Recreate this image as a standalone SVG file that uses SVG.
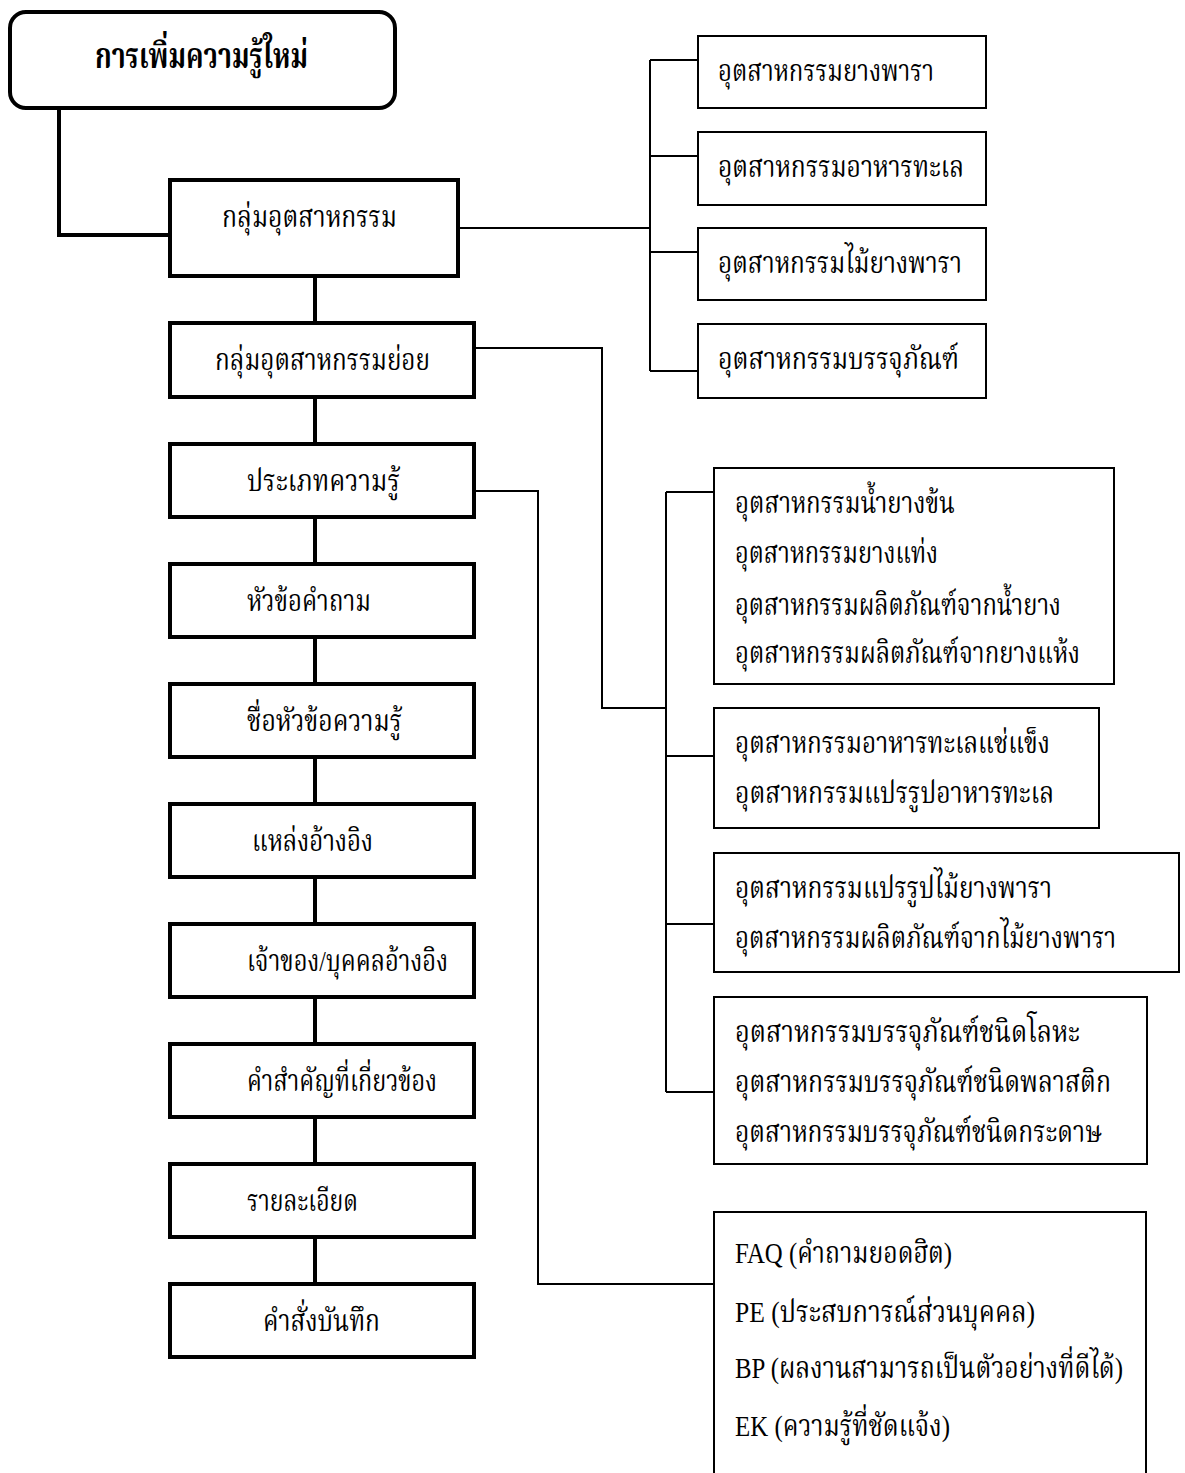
<svg xmlns="http://www.w3.org/2000/svg" width="1185" height="1473" viewBox="0 0 1185 1473">
<style>
text{font-family:"Liberation Serif","Noto Serif Thai","Noto Sans Thai","Loma","Garuda","Tlwg Typo",serif;font-size:30px;fill:#000}
.title{font-weight:bold;font-size:36px}
.thick{fill:#fff;stroke:#000;stroke-width:4}
.thin{fill:#fff;stroke:#000;stroke-width:2}
.cth{fill:none;stroke:#000;stroke-width:4}
.ctn{fill:none;stroke:#000;stroke-width:2}
</style>
<rect width="1185" height="1473" fill="#fff"/>
<g id="connectors">
<polyline class="cth" points="59,108 59,235 170,235"/>
<line class="cth" x1="315" y1="276" x2="315" y2="323"/>
<line class="cth" x1="315" y1="397" x2="315" y2="444"/>
<line class="cth" x1="315" y1="517" x2="315" y2="564"/>
<line class="cth" x1="315" y1="637" x2="315" y2="684"/>
<line class="cth" x1="315" y1="757" x2="315" y2="804"/>
<line class="cth" x1="315" y1="877" x2="315" y2="924"/>
<line class="cth" x1="315" y1="997" x2="315" y2="1044"/>
<line class="cth" x1="315" y1="1117" x2="315" y2="1164"/>
<line class="cth" x1="315" y1="1237" x2="315" y2="1284"/>
<line class="ctn" x1="458" y1="228" x2="650" y2="228"/>
<line class="ctn" x1="650" y1="60" x2="650" y2="371"/>
<line class="ctn" x1="650" y1="60" x2="698" y2="60"/>
<line class="ctn" x1="650" y1="156" x2="698" y2="156"/>
<line class="ctn" x1="650" y1="252" x2="698" y2="252"/>
<line class="ctn" x1="650" y1="371" x2="698" y2="371"/>
<polyline class="ctn" points="474,348 602,348 602,708 666,708"/>
<line class="ctn" x1="666" y1="492" x2="666" y2="1092"/>
<line class="ctn" x1="666" y1="492" x2="714" y2="492"/>
<line class="ctn" x1="666" y1="756" x2="714" y2="756"/>
<line class="ctn" x1="666" y1="924" x2="714" y2="924"/>
<line class="ctn" x1="666" y1="1092" x2="714" y2="1092"/>
<polyline class="ctn" points="474,491 538,491 538,1284 714,1284"/>
</g>
<g id="n-root"><rect class="thick" x="10" y="12" width="385" height="96" rx="16"/><text class="title" x="95" y="68" textLength="213" lengthAdjust="spacingAndGlyphs">การเพิ่มความรู้ใหม่</text></g>
<g id="n-industry"><rect class="thick" x="170" y="180" width="288" height="96"/><text x="222" y="227" textLength="175" lengthAdjust="spacingAndGlyphs">กลุ่มอุตสาหกรรม</text></g>
<g id="n-sub"><rect class="thick" x="170" y="323" width="304" height="74"/><text x="215" y="370" textLength="215" lengthAdjust="spacingAndGlyphs">กลุ่มอุตสาหกรรมย่อย</text></g>
<g id="n-type"><rect class="thick" x="170" y="444" width="304" height="73"/><text x="247" y="491" textLength="153" lengthAdjust="spacingAndGlyphs">ประเภทความรู้</text></g>
<g id="n-q"><rect class="thick" x="170" y="564" width="304" height="73"/><text x="247" y="611" textLength="124" lengthAdjust="spacingAndGlyphs">หัวข้อคำถาม</text></g>
<g id="n-name"><rect class="thick" x="170" y="684" width="304" height="73"/><text x="247" y="731" textLength="155" lengthAdjust="spacingAndGlyphs">ชื่อหัวข้อความรู้</text></g>
<g id="n-src"><rect class="thick" x="170" y="804" width="304" height="73"/><text x="252" y="851" textLength="121" lengthAdjust="spacingAndGlyphs">แหล่งอ้างอิง</text></g>
<g id="n-owner"><rect class="thick" x="170" y="924" width="304" height="73"/><text x="247" y="971" textLength="201" lengthAdjust="spacingAndGlyphs">เจ้าของ/บุคคลอ้างอิง</text></g>
<g id="n-kw"><rect class="thick" x="170" y="1044" width="304" height="73"/><text x="247" y="1091" textLength="190" lengthAdjust="spacingAndGlyphs">คำสำคัญที่เกี่ยวข้อง</text></g>
<g id="n-detail"><rect class="thick" x="170" y="1164" width="304" height="73"/><text x="247" y="1211" textLength="111" lengthAdjust="spacingAndGlyphs">รายละเอียด</text></g>
<g id="n-save"><rect class="thick" x="170" y="1284" width="304" height="73"/><text x="263" y="1331" textLength="117" lengthAdjust="spacingAndGlyphs">คำสั่งบันทึก</text></g>
<g id="n-rubber"><rect class="thin" x="698" y="36" width="288" height="72"/><text x="718" y="81" textLength="216" lengthAdjust="spacingAndGlyphs">อุตสาหกรรมยางพารา</text></g>
<g id="n-seafood"><rect class="thin" x="698" y="132" width="288" height="73"/><text x="718" y="177" textLength="246" lengthAdjust="spacingAndGlyphs">อุตสาหกรรมอาหารทะเล</text></g>
<g id="n-wood"><rect class="thin" x="698" y="228" width="288" height="72"/><text x="718" y="273" textLength="244" lengthAdjust="spacingAndGlyphs">อุตสาหกรรมไม้ยางพารา</text></g>
<g id="n-pack"><rect class="thin" x="698" y="324" width="288" height="74"/><text x="718" y="369" textLength="241" lengthAdjust="spacingAndGlyphs">อุตสาหกรรมบรรจุภัณฑ์</text></g>
<g id="n-subA"><rect class="thin" x="714" y="468" width="400" height="216"/>
<text x="735" y="513" textLength="220" lengthAdjust="spacingAndGlyphs">อุตสาหกรรมน้ำยางข้น</text>
<text x="735" y="563" textLength="203" lengthAdjust="spacingAndGlyphs">อุตสาหกรรมยางแท่ง</text>
<text x="735" y="615" textLength="326" lengthAdjust="spacingAndGlyphs">อุตสาหกรรมผลิตภัณฑ์จากน้ำยาง</text>
<text x="735" y="663" textLength="345" lengthAdjust="spacingAndGlyphs">อุตสาหกรรมผลิตภัณฑ์จากยางแห้ง</text></g>
<g id="n-subB"><rect class="thin" x="714" y="708" width="385" height="120"/>
<text x="735" y="753" textLength="315" lengthAdjust="spacingAndGlyphs">อุตสาหกรรมอาหารทะเลแช่แข็ง</text>
<text x="735" y="803" textLength="319" lengthAdjust="spacingAndGlyphs">อุตสาหกรรมแปรรูปอาหารทะเล</text></g>
<g id="n-subC"><rect class="thin" x="714" y="853" width="465" height="119"/>
<text x="735" y="898" textLength="317" lengthAdjust="spacingAndGlyphs">อุตสาหกรรมแปรรูปไม้ยางพารา</text>
<text x="735" y="948" textLength="381" lengthAdjust="spacingAndGlyphs">อุตสาหกรรมผลิตภัณฑ์จากไม้ยางพารา</text></g>
<g id="n-subD"><rect class="thin" x="714" y="997" width="433" height="167"/>
<text x="735" y="1042" textLength="345" lengthAdjust="spacingAndGlyphs">อุตสาหกรรมบรรจุภัณฑ์ชนิดโลหะ</text>
<text x="735" y="1092" textLength="376" lengthAdjust="spacingAndGlyphs">อุตสาหกรรมบรรจุภัณฑ์ชนิดพลาสติก</text>
<text x="735" y="1142" textLength="367" lengthAdjust="spacingAndGlyphs">อุตสาหกรรมบรรจุภัณฑ์ชนิดกระดาษ</text></g>
<g id="n-types"><rect class="thin" x="714" y="1212" width="432" height="290"/>
<text x="735" y="1263" textLength="217" lengthAdjust="spacingAndGlyphs">FAQ (คำถามยอดฮิต)</text>
<text x="735" y="1322" textLength="300" lengthAdjust="spacingAndGlyphs">PE (ประสบการณ์ส่วนบุคคล)</text>
<text x="735" y="1378" textLength="388" lengthAdjust="spacingAndGlyphs">BP (ผลงานสามารถเป็นตัวอย่างที่ดีได้)</text>
<text x="735" y="1436" textLength="215" lengthAdjust="spacingAndGlyphs">EK (ความรู้ที่ชัดแจ้ง)</text></g>
</svg>
